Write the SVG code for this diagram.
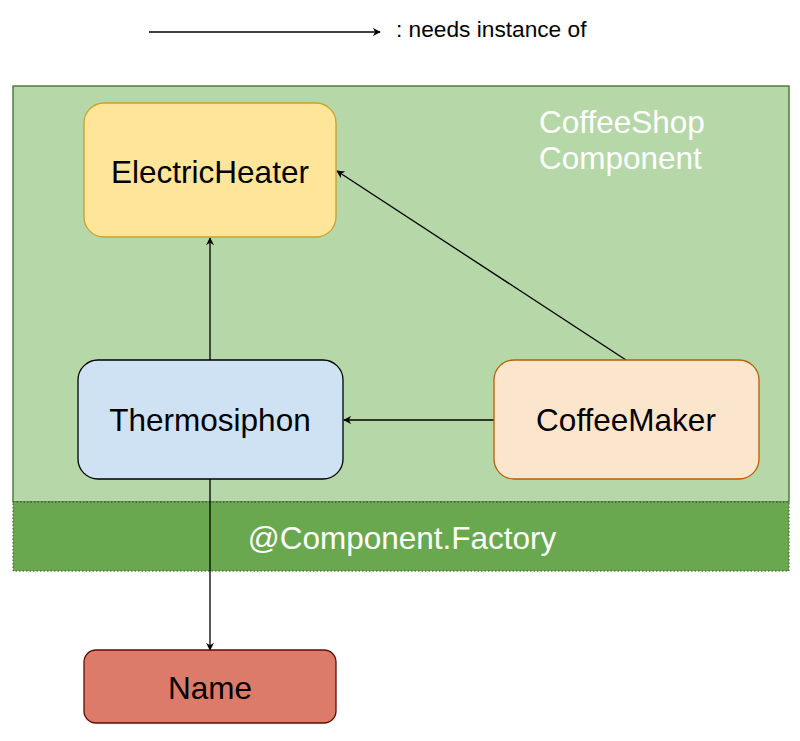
<svg xmlns="http://www.w3.org/2000/svg" width="800" height="741" viewBox="0 0 800 741">
<style>
  text { font-family: "Liberation Sans", Arial, sans-serif; }
  .node text { font-size: 31.5px; fill: #000; text-anchor: middle; dominant-baseline: central; }
  .edge { stroke: #000; stroke-width: 1.3; fill: none; marker-end: url(#arr); }
  .white { fill: #ffffff; font-size: 31.5px; }
</style>
<defs>
  <marker id="arr" viewBox="0 0 10 10" refX="9" refY="5" markerWidth="8" markerHeight="8" markerUnits="userSpaceOnUse" orient="auto">
    <path d="M0,0 L10,5 L0,10 L3,5 Z" fill="#000"/>
  </marker>
</defs>
<g id="legend">
  <line x1="149" y1="32" x2="380" y2="32" class="edge"/>
  <text x="396" y="37" font-size="22.7" fill="#000">: needs instance of</text>
</g>
<g id="component">
  <rect x="13" y="86" width="776" height="416" fill="#b6d7a8" stroke="#3d6b2a" stroke-width="1.3"/>
  <text class="white" x="539" y="133">CoffeeShop</text>
  <text class="white" x="539" y="169">Component</text>
</g>
<g id="factory">
  <rect x="13" y="502" width="776" height="69" fill="#6aa84f" stroke="#2f4f1f" stroke-width="1" stroke-dasharray="1.5 2"/>
  <text class="white" x="402" y="549" text-anchor="middle">@Component.Factory</text>
</g>
<g id="connectors">
  <line class="edge" x1="210" y1="360" x2="210" y2="238"/>
  <line class="edge" x1="626" y1="360" x2="337" y2="171"/>
  <line class="edge" x1="494" y1="420" x2="344" y2="420"/>
  <line class="edge" x1="210" y1="479" x2="210" y2="650"/>
</g>
<g id="electric-heater" class="node">
  <rect x="84" y="103" width="252" height="134" rx="20" fill="#ffe599" stroke="#c9a227" stroke-width="1.3"/>
  <text x="210" y="172">ElectricHeater</text>
</g>
<g id="thermosiphon" class="node">
  <rect x="78" y="360" width="265" height="119" rx="20" fill="#cfe2f3" stroke="#000" stroke-width="1.3"/>
  <text x="210" y="420">Thermosiphon</text>
</g>
<g id="coffee-maker" class="node">
  <rect x="494" y="360" width="265" height="119" rx="20" fill="#fce5cd" stroke="#b45f06" stroke-width="1.3"/>
  <text x="626" y="420">CoffeeMaker</text>
</g>
<g id="name" class="node">
  <rect x="84" y="650" width="252" height="73" rx="12" fill="#dd7b6a" stroke="#5b0f00" stroke-width="1.3"/>
  <text x="210" y="688">Name</text>
</g>
</svg>
